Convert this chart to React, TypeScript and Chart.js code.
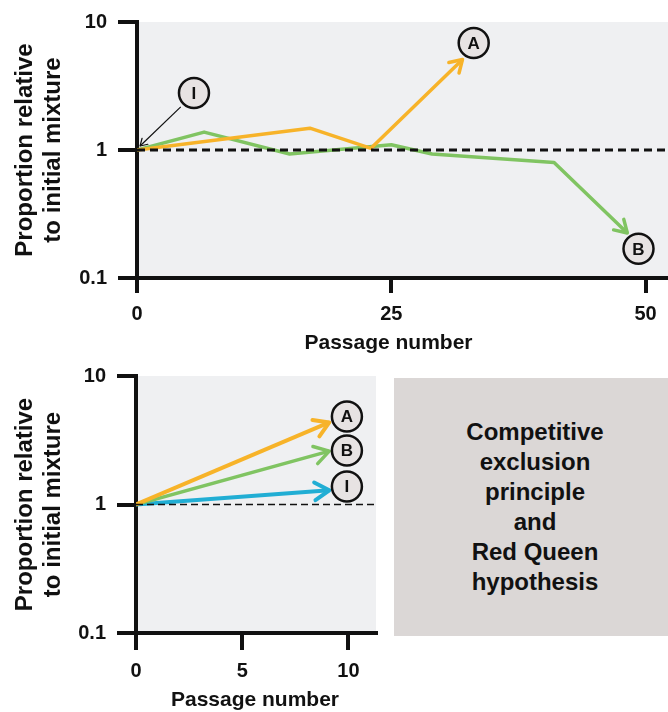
import React, { useEffect, useRef } from 'react';
import { Chart, registerables } from 'chart.js';

Chart.register(...registerables);

const FONT = '"Liberation Sans", Arial, Helvetica, sans-serif';
const INK = '#111111';
const ORANGE = '#f7b329';
const GREEN = '#80c462';
const CYAN = '#21aed4';
const PLOT_BG = '#eff0f2';
const BADGE_BG = '#e7e3e3';

// ---------- shared ----------
const yTicks = [0.1, 1, 10];
const yTitleLines = ['Proportion relative', 'to initial mixture'];
const xTitleText = 'Passage number';

// ---------- top panel ----------
const topXMax = 52.2;
const topXTicks = [0, 25, 50];
const topOrangeX = [0, 17, 23, 32];
const topOrangeY = [1, 1.48, 1.03, 5.1];
const topGreenX = [0, 6.6, 15, 25, 29, 41, 48.2];
const topGreenY = [1, 1.38, 0.93, 1.1, 0.93, 0.8, 0.225];
const topBaselineX = [0, topXMax];
const topBaselineY = [1, 1];
const topBadgeText = ['A', 'I', 'B'];
const topBadgeX = [33.1, 5.6, 49.3];
const topBadgeY = [6.85, 2.79, 0.169];
const topPointerX = [4.3, 0.3];
const topPointerY = [2.17, 1.075];

// ---------- bottom panel ----------
const bottomXMax = 11.3;
const bottomXTicks = [0, 5, 10];
const bottomX = [0, 9.1];
const bottomOrangeY = [1, 4.35];
const bottomGreenY = [1, 2.6];
const bottomCyanY = [1, 1.29];
const bottomBaselineX = [0, bottomXMax];
const bottomBaselineY = [1, 1];
const bottomBadgeText = ['A', 'B', 'I'];
const bottomBadgeX = [9.93, 9.93, 9.93];
const bottomBadgeY = [4.84, 2.63, 1.38];

const boxLines = ['Competitive', 'exclusion', 'principle', 'and', 'Red Queen', 'hypothesis'];

const pts = (xs: number[], ys: number[]) => xs.map((x, i) => ({ x, y: ys[i] }));

function chevron(ctx: CanvasRenderingContext2D, x1: number, y1: number, x2: number, y2: number, size: number, color: string, width: number) {
  const ang = Math.atan2(y2 - y1, x2 - x1);
  const spread = 0.55;
  ctx.save();
  ctx.strokeStyle = color;
  ctx.lineWidth = width;
  ctx.lineCap = 'round';
  ctx.lineJoin = 'round';
  ctx.beginPath();
  ctx.moveTo(x2 - size * Math.cos(ang - spread), y2 - size * Math.sin(ang - spread));
  ctx.lineTo(x2, y2);
  ctx.lineTo(x2 - size * Math.cos(ang + spread), y2 - size * Math.sin(ang + spread));
  ctx.stroke();
  ctx.restore();
}

interface PanelCfg {
  arrowSize: number;
  badgeText: string[];
  badgeX: number[];
  badgeY: number[];
  pointerX?: number[];
  pointerY?: number[];
  titleDx: number;
  titleDy: number;
}

function makeDecorPlugin(cfg: PanelCfg) {
  return {
    id: 'panelDecor',
    beforeDraw(chart: any) {
      const { ctx, chartArea } = chart;
      ctx.save();
      ctx.fillStyle = PLOT_BG;
      ctx.fillRect(chartArea.left, chartArea.top, chartArea.right - chartArea.left, chartArea.bottom - chartArea.top);
      ctx.restore();
    },
    afterDatasetsDraw(chart: any) {
      const { ctx, chartArea } = chart;
      const xs = chart.scales.x;
      const ys = chart.scales.y;
      // arrowheads
      chart.data.datasets.forEach((ds: any, i: number) => {
        if (!ds.arrow) return;
        const meta = chart.getDatasetMeta(i);
        const n = meta.data.length;
        if (n < 2) return;
        const a = meta.data[n - 2];
        const b = meta.data[n - 1];
        chevron(ctx, a.x, a.y, b.x, b.y, cfg.arrowSize, ds.borderColor, ds.borderWidth);
      });
      // pointer arrow
      if (cfg.pointerX && cfg.pointerY) {
        const x1 = xs.getPixelForValue(cfg.pointerX[0]);
        const y1 = ys.getPixelForValue(cfg.pointerY[0]);
        const x2 = xs.getPixelForValue(cfg.pointerX[1]);
        const y2 = ys.getPixelForValue(cfg.pointerY[1]);
        ctx.save();
        ctx.strokeStyle = INK;
        ctx.lineWidth = 1.2;
        ctx.beginPath();
        ctx.moveTo(x1, y1);
        ctx.lineTo(x2, y2);
        ctx.stroke();
        ctx.restore();
        chevron(ctx, x1, y1, x2, y2, 8, INK, 1.2);
      }
      // badges
      cfg.badgeText.forEach((t, i) => {
        const cx = xs.getPixelForValue(cfg.badgeX[i]);
        const cy = ys.getPixelForValue(cfg.badgeY[i]);
        ctx.save();
        ctx.beginPath();
        ctx.arc(cx, cy, 15, 0, Math.PI * 2);
        ctx.fillStyle = BADGE_BG;
        ctx.fill();
        ctx.lineWidth = 2.5;
        ctx.strokeStyle = INK;
        ctx.stroke();
        ctx.fillStyle = INK;
        ctx.font = `bold 17px ${FONT}`;
        ctx.textAlign = 'center';
        ctx.textBaseline = 'middle';
        ctx.fillText(t, cx, cy + 1);
        ctx.restore();
      });
      // x title
      ctx.save();
      ctx.fillStyle = INK;
      ctx.font = `bold 21px ${FONT}`;
      ctx.textAlign = 'center';
      ctx.textBaseline = 'middle';
      ctx.fillText(xTitleText, (chartArea.left + chartArea.right) / 2 + cfg.titleDx, chartArea.bottom + cfg.titleDy);
      ctx.restore();
    },
  };
}

function makeScales(xMax: number, xTicks: number[], yWidth: number, xHeight: number, xTickLen: number) {
  const tickFont = { family: FONT, size: 20, weight: 'bold' as const };
  return {
    x: {
      type: 'linear' as const,
      min: 0,
      max: xMax,
      afterBuildTicks: (s: any) => {
        s.ticks = xTicks.map((v) => ({ value: v }));
      },
      afterFit: (s: any) => {
        s.height = xHeight;
        s.paddingLeft = 0;
        s.paddingRight = 0;
      },
      ticks: { font: tickFont, color: INK, padding: 9, autoSkip: false, maxRotation: 0, callback: (v: any) => String(v) },
      grid: { display: true, drawOnChartArea: false, drawTicks: true, tickLength: xTickLen, lineWidth: 4, tickWidth: 4, tickColor: INK, color: INK },
      border: { display: true, color: INK, width: 4 },
    },
    y: {
      type: 'logarithmic' as const,
      min: 0.1,
      max: 10,
      afterBuildTicks: (s: any) => {
        s.ticks = yTicks.map((v) => ({ value: v }));
      },
      afterFit: (s: any) => {
        s.width = yWidth;
        s.paddingTop = 0;
        s.paddingBottom = 0;
      },
      ticks: { font: tickFont, color: INK, padding: 11, autoSkip: false, callback: (v: any) => String(v) },
      grid: { display: true, drawOnChartArea: false, drawTicks: true, tickLength: 19, lineWidth: 4, tickWidth: 4, tickColor: INK, color: INK },
      border: { display: true, color: INK, width: 4 },
      title: {
        display: true,
        text: yTitleLines,
        color: INK,
        font: { family: FONT, size: 24, weight: 'bold' as const, lineHeight: 1.17 },
        padding: { top: 11, bottom: 0 },
      },
    },
  };
}

function topConfig(): any {
  return {
    type: 'line',
    data: {
      datasets: [
        { label: 'baseline', data: pts(topBaselineX, topBaselineY), borderColor: INK, borderWidth: 3, borderDash: [8, 5], pointRadius: 0, order: 0 },
        { label: 'A', data: pts(topOrangeX, topOrangeY), borderColor: ORANGE, borderWidth: 3.5, pointRadius: 0, order: 1, arrow: true, borderJoinStyle: 'round' },
        { label: 'B', data: pts(topGreenX, topGreenY), borderColor: GREEN, borderWidth: 3.5, pointRadius: 0, order: 2, arrow: true, borderJoinStyle: 'round' },
      ],
    },
    options: {
      responsive: false,
      animation: false,
      parsing: true,
      layout: { padding: { top: 22, right: 0, left: 0, bottom: 0 } },
      plugins: { legend: { display: false }, tooltip: { enabled: false } },
      scales: makeScales(topXMax, topXTicks, 137, 82, 15),
    },
    plugins: [
      makeDecorPlugin({
        arrowSize: 14,
        badgeText: topBadgeText,
        badgeX: topBadgeX,
        badgeY: topBadgeY,
        pointerX: topPointerX,
        pointerY: topPointerY,
        titleDx: -14,
        titleDy: 65,
      }),
    ],
  };
}

function bottomConfig(): any {
  return {
    type: 'line',
    data: {
      datasets: [
        { label: 'baseline', data: pts(bottomBaselineX, bottomBaselineY), borderColor: INK, borderWidth: 1.6, borderDash: [7, 4], pointRadius: 0, order: 0 },
        { label: 'A', data: pts(bottomX, bottomOrangeY), borderColor: ORANGE, borderWidth: 4, pointRadius: 0, order: 1, arrow: true },
        { label: 'B', data: pts(bottomX, bottomGreenY), borderColor: GREEN, borderWidth: 3.5, pointRadius: 0, order: 2, arrow: true },
        { label: 'I', data: pts(bottomX, bottomCyanY), borderColor: CYAN, borderWidth: 4, pointRadius: 0, order: 3, arrow: true },
      ],
    },
    options: {
      responsive: false,
      animation: false,
      layout: { padding: { top: 16, right: 14, left: 0, bottom: 0 } },
      plugins: { legend: { display: false }, tooltip: { enabled: false } },
      scales: makeScales(bottomXMax, bottomXTicks, 136, 79, 17),
    },
    plugins: [
      makeDecorPlugin({
        arrowSize: 17,
        badgeText: bottomBadgeText,
        badgeX: bottomBadgeX,
        badgeY: bottomBadgeY,
        titleDx: -1,
        titleDy: 67,
      }),
    ],
  };
}

function Panel({ width, height, left, top, build }: { width: number; height: number; left: number; top: number; build: () => any }) {
  const ref = useRef<HTMLCanvasElement>(null);
  useEffect(() => {
    const chart = new Chart(ref.current as HTMLCanvasElement, build());
    return () => chart.destroy();
  }, []);
  return (
    <canvas
      ref={ref}
      width={width}
      height={height}
      style={{ position: 'absolute', left, top, width, height, display: 'block' }}
    />
  );
}

export default function App() {
  return (
    <div style={{ position: 'absolute', left: 0, top: 0, width: 668, height: 712, overflow: 'hidden', background: '#ffffff' }}>
      <Panel width={668} height={360} left={0} top={0} build={topConfig} />
      <Panel width={390} height={352} left={0} top={360} build={bottomConfig} />
      <div
        style={{
          position: 'absolute',
          left: 394,
          top: 378,
          width: 274,
          height: 258,
          background: '#dbd7d6',
          display: 'flex',
          flexDirection: 'column',
          alignItems: 'center',
          justifyContent: 'center',
          paddingLeft: 8,
          boxSizing: 'border-box',
          fontFamily: FONT,
          fontWeight: 'bold',
          fontSize: 24,
          lineHeight: '30px',
          color: INK,
          textAlign: 'center',
        }}
      >
        {boxLines.map((l) => (
          <div key={l}>{l}</div>
        ))}
      </div>
    </div>
  );
}
